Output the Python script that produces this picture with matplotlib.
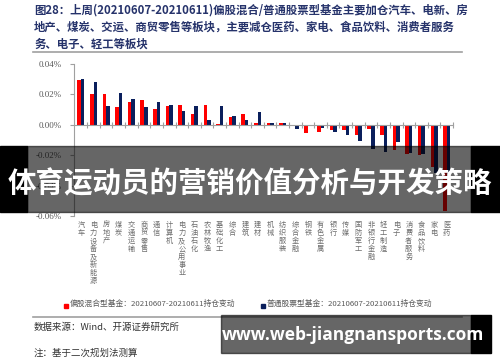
import numpy as np
import matplotlib
matplotlib.use("Agg")
import matplotlib.pyplot as plt
from matplotlib.patches import Rectangle
import matplotlib.transforms as mtransforms

plt.rcParams['font.family'] = ['Noto Sans CJK SC', 'DejaVu Sans']

categories = ['汽车', '电力设备及新能源', '房地产', '煤炭', '交通运输', '商贸零售', '通信',
              '计算机', '电力及公用事业', '石油石化', '农林牧渔', '基础化工', '综合', '建筑',
              '建材', '机械', '纺织服装', '综合金融', '钢铁', '有色金属', '银行', '传媒',
              '国防军工', '非银行金融', '轻工制造', '电子', '消费者服务', '食品饮料', '家电', '医药']
# 持仓变动（%）
hybrid = [0.0297, 0.0202, 0.0202, 0.0116, 0.0152, 0.0165, 0.0105, 0.0121, 0.0130, 0.0070,
          0.0132, 0.0004, 0.0050, 0.0070, 0.0011, 0.0015, 0.0013, -0.0003, -0.0055, -0.0048,
          -0.0031, -0.0035, -0.0064, -0.0028, -0.0070, -0.0165, -0.0190, -0.0198, -0.0280, -0.0570]
stock = [0.0302, 0.0279, 0.0125, 0.0209, 0.0171, 0.0116, 0.0152, 0.0129, 0.0088, 0.0123,
         0.0029, 0.0125, 0.0061, 0.0032, 0.0084, 0.0015, 0.0013, -0.0030, -0.0004, -0.0018,
         -0.0048, -0.0070, -0.0108, -0.0162, -0.0182, -0.0110, -0.0188, -0.0190, -0.0320, -0.0350]
yticks = [-0.06, -0.04, -0.02, 0.0, 0.02, 0.04]

W, H = 500, 362
fig = plt.figure(figsize=(5, 3.62), dpi=100)

def px(x, y):
    # 像素坐标 -> figure 坐标
    return x / W, 1 - y / H

title_color = '#26336b'
lines = ['图28：上周(20210607-20210611)偏股混合/普通股票型基金主要加仓汽车、电新、房',
         '地产、煤炭、交运、商贸零售等板块，主要减仓医药、家电、食品饮料、消费者服务',
         '务、电子、轻工等板块']
for i, s in enumerate(lines):
    fig.text(*px(34, 10 + i * 17), s, fontsize=8.2, fontweight='bold', color=title_color,
             va='center', ha='left')
fig.add_artist(plt.Line2D([33 / W, 462 / W], [1 - 52 / H] * 2, color='#a0a0a0', lw=1.2))

ax = fig.add_axes([74 / W, 1 - 216 / H, (453 - 74) / W, (216 - 64) / H])
x = np.arange(len(categories))
bw = 0.28
ax.bar(x - bw / 2, hybrid, bw, color='#ff0000', zorder=2)
ax.bar(x + bw / 2, stock, bw, color='#0a1f5c', zorder=2)
ax.set_xlim(-0.55, len(categories) - 0.5)
ax.set_ylim(-0.06, 0.04)
ax.set_yticks(yticks)
ax.set_yticklabels(['%.2f%%' % v for v in yticks], family='Liberation Serif', fontsize=6.5,
                   color='#595959')
for s in ['top', 'right']:
    ax.spines[s].set_visible(False)
ax.spines['left'].set_color('#a0a0a0')
ax.spines['bottom'].set_position(('data', 0))
ax.spines['bottom'].set_color('#a0a0a0')
ax.set_xticks(np.arange(len(categories)) + 0.5)
ax.set_xticklabels([])
ax.tick_params(axis='x', direction='inout', length=4, color='#a0a0a0')
ax.tick_params(axis='y', direction='out', length=3, color='#a0a0a0', pad=6)
ax.patch.set_visible(False)

trans = mtransforms.blended_transform_factory(ax.transData, ax.transAxes)
for i, c in enumerate(categories):
    ax.text(i, -0.03, '\n'.join(c), transform=trans, ha='center', va='top', fontsize=5.2,
            linespacing=1.02, color='#6e6e6e')

# 图例
fig.add_artist(Rectangle(px(64, 308), 4 / W, 4 / H, color='#ff0000'))
fig.text(*px(70, 304), '偏股混合型基金：20210607-20210611持仓变动', fontsize=5.6,
         color='#595959', va='center')
fig.add_artist(Rectangle(px(261, 308), 4 / W, 4 / H, color='#0a1f5c'))
fig.text(*px(267, 304), '普通股票型基金：20210607-20210611持仓变动', fontsize=5.6,
         color='#595959', va='center')

fig.add_artist(plt.Line2D([33 / W, 462 / W], [1 - 317 / H] * 2, color='#a0a0a0', lw=1.2))
fig.text(*px(34, 327), '数据来源：Wind、开源证券研究所', fontsize=6.8, color='#333333', va='center')
fig.text(*px(34, 353), '注：基于二次规划法测算', fontsize=6.8, color='#333333', va='center')

# 横幅
fig.add_artist(Rectangle(px(27, 212), 444 / W, 66 / H, color='black', alpha=0.6, zorder=5))
fig.add_artist(Rectangle(px(0, 212), 27 / W, 66 / H, color='black', zorder=5))
fig.add_artist(Rectangle(px(471, 212), 29 / W, 66 / H, color='black', zorder=5))
fig.text(*px(250, 184), '体育运动员的营销价值分析与开发策略', fontsize=20.5, fontweight='bold',
         color='white', ha='center', va='center', zorder=6)

fig.add_artist(Rectangle(px(221, 353), 250 / W, 38 / H, color='black', alpha=0.6, zorder=5))
fig.add_artist(Rectangle(px(471, 353), 20 / W, 38 / H, color='black', zorder=5))
fig.text(*px(353, 335), 'www.web-jiangnansports.com', fontsize=12.5, fontweight='bold',
         family='Open Sans', color='white', ha='center', va='center', zorder=6)

fig.savefig('out.png', dpi=100)
